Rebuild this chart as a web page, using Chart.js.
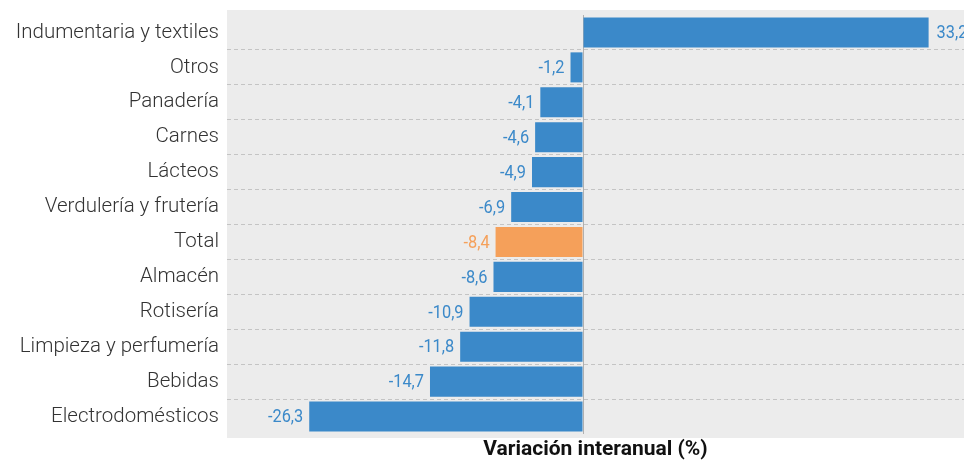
<!DOCTYPE html>
<html>
<head>
<meta charset="utf-8">
<script src="https://cdn.jsdelivr.net/npm/chart.js@4"></script>
<style>
  html, body { margin: 0; padding: 0; background: #fff; }
  #wrap { width: 964px; height: 462px; }
</style>
</head>
<body>
<div id="wrap"><canvas id="myChart"></canvas></div>
<script>
const categories = [
	'Indumentaria y textiles', 'Otros', 'Panadería', 'Carnes', 'Lácteos',
	'Verdulería y frutería', 'Total', 'Almacén', 'Rotisería',
	'Limpieza y perfumería', 'Bebidas', 'Electrodomésticos'
];
const values = [33.2, -1.2, -4.1, -4.6, -4.9, -6.9, -8.4, -8.6, -10.9, -11.8, -14.7, -26.3];
const highlight = 'Total';
const axisTitle = 'Variación interanual (%)';

const BLUE = '#3b89c9';
const ORANGE = '#f5a05a';
const barColors = categories.map(c => (c === highlight ? ORANGE : BLUE));

// gray panel behind the plot area, a little taller than the rows
const panelBg = {
	id: 'panelBg',
	beforeDraw(chart) {
		const { ctx, chartArea: a } = chart;
		ctx.save();
		ctx.fillStyle = '#ececec';
		ctx.fillRect(a.left, a.top - 5, a.right - a.left, a.bottom - a.top + 9);
		ctx.restore();
	}
};

// value labels next to the bar ends (squeezed horizontally to look condensed)
const SQUEEZE = 0.86;
const valueLabels = {
	id: 'valueLabels',
	afterDatasetsDraw(chart) {
		const { ctx } = chart;
		const meta = chart.getDatasetMeta(0);
		ctx.save();
		ctx.font = '19px Roboto';
		ctx.textBaseline = 'middle';
		meta.data.forEach((bar, i) => {
			const v = values[i];
			const txt = v.toFixed(1).replace('.', ',');
			const x = v < 0 ? bar.x - 6 : bar.x + 8;
			ctx.save();
			ctx.translate(x, bar.y + 1);
			ctx.scale(SQUEEZE, 1);
			ctx.fillStyle = barColors[i];
			ctx.textAlign = v < 0 ? 'right' : 'left';
			ctx.fillText(txt, 0, 0);
			ctx.restore();
		});
		ctx.restore();
	}
};

new Chart('myChart', {
	type: 'bar',
	data: {
		labels: categories,
		datasets: [{
			data: values,
			backgroundColor: barColors,
			barPercentage: 0.86,
			categoryPercentage: 1
		}]
	},
	options: {
		indexAxis: 'y',
		responsive: true,
		maintainAspectRatio: false,
		animation: false,
		layout: { padding: { top: 15, right: 0, left: 0, bottom: 0 } },
		plugins: {
			legend: { display: false },
			tooltip: { enabled: false }
		},
		scales: {
			x: {
				min: -34.2,
				max: 36.6,
				ticks: { display: false, stepSize: 10 },
				border: { display: false },
				grid: {
					drawTicks: false,
					color: ctx => (ctx.tick && ctx.tick.value === 0 ? '#b0b0b0' : 'transparent'),
					lineWidth: 1
				},
				title: {
					display: true,
					text: axisTitle,
					color: '#111',
					font: { family: 'Roboto', size: 21, weight: 'bold' },
					padding: { top: 4, bottom: 0 }
				},
				afterFit(scale) { scale.height = 28; }
			},
			y: {
				border: { display: false, dash: [4, 3] },
				ticks: {
					color: '#333',
					font: { family: 'Roboto', size: 20.5, weight: 300 },
					padding: 8
				},
				grid: {
					drawTicks: false,
					offset: true,
					color: ctx => (ctx.type !== 'tick' || ctx.index === 0 ? 'transparent' : '#c4c4c4'),
					lineWidth: 1
				},
				afterFit(scale) {
					scale.width = 227;
					scale.paddingTop = 0;
					scale.paddingBottom = 0;
				}
			}
		}
	},
	plugins: [panelBg, valueLabels]
});
</script>
</body>
</html>
